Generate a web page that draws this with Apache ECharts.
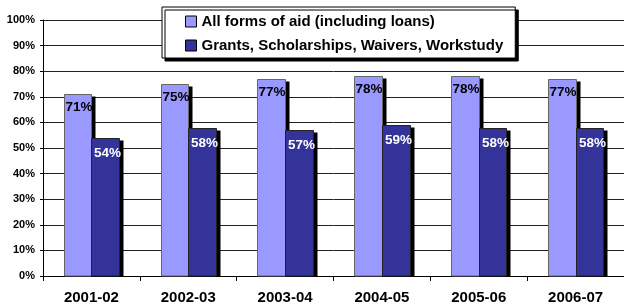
<!DOCTYPE html>
<html>
<head>
<meta charset="utf-8">
<script src="https://cdn.jsdelivr.net/npm/echarts@6/dist/echarts.min.js"></script>
<style>
html,body{margin:0;padding:0;background:#fff;overflow:hidden;}
#chart{width:624px;height:307px;}
</style>
</head>
<body>
<div id="chart"></div>
<script>
const categories = ['2001-02', '2002-03', '2003-04', '2004-05', '2005-06', '2006-07'];
const seriesNames = ['All forms of aid (including loans)', 'Grants, Scholarships, Waivers, Workstudy'];
const allAid = [71, 75, 77, 78, 78, 77];
const grants = [54, 58, 57, 59, 58, 58];
const yTicks = [0, 10, 20, 30, 40, 50, 60, 70, 80, 90, 100];

const FONT = '"Liberation Sans", Arial, sans-serif';
const chart = echarts.init(document.getElementById('chart'), null, {renderer: 'canvas'});

const GAP = 0.43;

function barSeries(name, data, slot, color, border, labelColor, labelDx, labelDy) {
  return {
    name: name,
    type: 'custom',
    data: data.map((v, i) => [i, v]),
    encode: {x: 0, y: 1},
    itemStyle: {color: color, borderColor: border, borderWidth: 1},
    renderItem: function (params, api) {
      const idx = api.value(0);
      const val = api.value(1);
      const top = api.coord([idx, val]);
      const base = api.coord([idx, 0]);
      const band = api.size([1, 0])[0];
      const bw = band * (1 - GAP) / 2;
      const x0 = Math.round(top[0] - bw + slot * bw) + 0.5;
      const x1 = Math.round(top[0] + slot * bw) + 0.5;
      const y0 = Math.round(top[1]) + 0.5;
      const y1 = base[1];
      const w = x1 - x0;
      const h = y1 - y0;
      return {
        type: 'group',
        children: [
          {type: 'rect', shape: {x: x0 + 4, y: y0 + 2, width: w, height: h - 2}, style: {fill: '#000'}},
          {type: 'rect', shape: {x: x0, y: y0, width: w, height: h}, style: {fill: color, stroke: border, lineWidth: 1}},
          {type: 'text', x: x0 + labelDx, y: y0 + labelDy, style: {
            text: val + '%', fill: labelColor, font: 'bold 13.5px ' + FONT,
            textAlign: 'left', textVerticalAlign: 'top'
          }}
        ]
      };
    },
    animation: false
  };
}

chart.setOption({
  animation: false,
  backgroundColor: '#fff',
  grid: {left: 43, top: 20, bottom: 31, width: 585, containLabel: false},
  legend: {
    orient: 'vertical',
    left: 162,
    top: 7,
    padding: [7, 12, 5, 23],
    itemGap: 9,
    itemWidth: 11,
    itemHeight: 11,
    icon: 'rect',
    backgroundColor: '#fff',
    borderColor: '#000',
    borderWidth: 1,
    borderRadius: 0,
    shadowColor: '#000',
    shadowBlur: 0,
    shadowOffsetX: 3,
    shadowOffsetY: 3,
    itemStyle: {borderColor: '#000', borderWidth: 1},
    textStyle: {fontFamily: FONT, fontWeight: 'bold', fontSize: 15, color: '#000'},
    data: seriesNames
  },
  xAxis: {
    type: 'category',
    data: categories,
    axisLine: {lineStyle: {color: '#000', width: 1}},
    axisTick: {show: true, length: 5, inside: false, lineStyle: {color: '#000'}},
    axisLabel: {fontFamily: FONT, fontWeight: 'bold', fontSize: 15, color: '#000', margin: 14},
    splitLine: {show: false}
  },
  yAxis: {
    type: 'value',
    min: yTicks[0],
    max: yTicks[yTicks.length - 1],
    interval: yTicks[1] - yTicks[0],
    axisLine: {show: true, lineStyle: {color: '#000', width: 1}},
    axisTick: {show: true, length: 3, lineStyle: {color: '#000'}},
    axisLabel: {fontFamily: FONT, fontWeight: 'bold', fontSize: 11, color: '#000', margin: 8, formatter: '{value}%'},
    splitLine: {show: true, lineStyle: {color: '#222', width: 1}}
  },
  series: [
    barSeries(seriesNames[0], allAid, 0, '#9999FF', '#666', '#000', 1, 6),
    barSeries(seriesNames[1], grants, 1, '#333399', '#222', '#fff', 2.5, 8)
  ]
});
</script>
</body>
</html>
